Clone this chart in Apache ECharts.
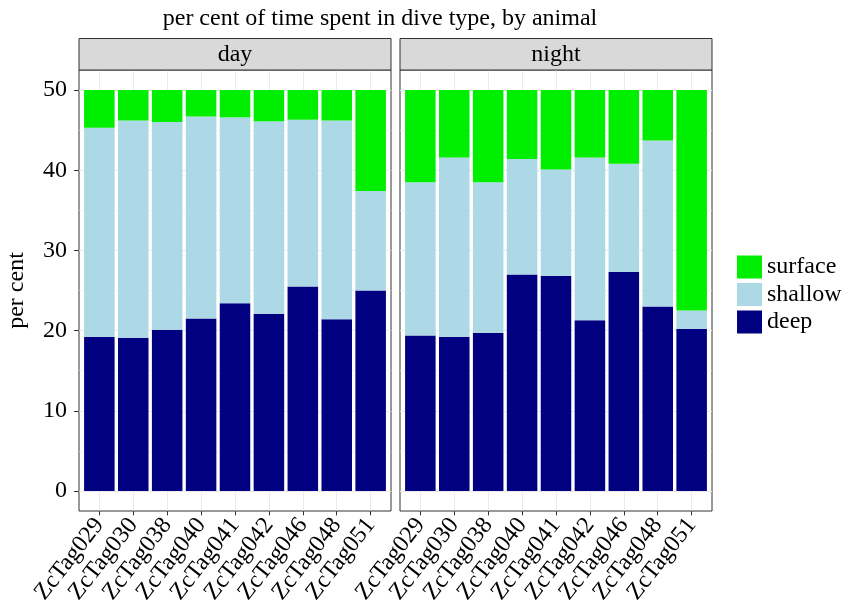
<!DOCTYPE html>
<html>
<head>
<meta charset="utf-8">
<script src="https://cdn.jsdelivr.net/npm/echarts@6/dist/echarts.min.js"></script>
<style>html,body{margin:0;padding:0;background:#fff}#chart{width:843px;height:607px}</style>
</head>
<body>
<div id="chart"></div>
<script>
const categories = ['ZcTag029','ZcTag030','ZcTag038','ZcTag040','ZcTag041','ZcTag042','ZcTag046','ZcTag048','ZcTag051'];
const panels = ['day', 'night'];
const yTicks = [0, 10, 20, 30, 40, 50];
const dayDeep      = [19.2, 19.1, 20.1, 21.5, 23.4, 22.1, 25.5, 21.4, 25.0];
const dayShallow   = [26.1, 27.1, 25.9, 25.2, 23.2, 24.0, 20.8, 24.8, 12.4];
const daySurface   = [ 4.7,  3.8,  4.0,  3.3,  3.4,  3.9,  3.7,  3.8, 12.6];
const nightDeep    = [19.4, 19.2, 19.7, 27.0, 26.8, 21.3, 27.3, 23.0, 20.2];
const nightShallow = [19.1, 22.4, 18.8, 14.4, 13.3, 20.3, 13.5, 20.7,  2.3];
const nightSurface = [11.5,  8.4, 11.5,  8.6,  9.9,  8.4,  9.2,  6.3, 27.5];
const seriesNames = ['deep', 'shallow', 'surface'];
const legendOrder = ['surface', 'shallow', 'deep'];
const titleText = 'per cent of time spent in dive type, by animal';
const yAxisTitle = 'per cent';

const colors = { deep: '#000080', shallow: '#ADD8E6', surface: '#00EE00' };
const FONT = 'Liberation Serif';
const FS = 24;
const values = { day: [dayDeep, dayShallow, daySurface], night: [nightDeep, nightShallow, nightSurface] };

// layout (pixels)
const panelLeft = [79, 400];
const panelW = 312;
const stripTop = 38.5;
const panelTop = 70, panelBottom = 511;
const yMin = 0, yMax = 50, yExp = 2.5;
const pxPerY = (panelBottom - panelTop) / (yMax - yMin + 2 * yExp);
const dataTop = panelTop + yExp * pxPerY;
const dataH = (yMax - yMin) * pxPerY;
const unit = panelW / (categories.length - 1 + 1.2);

const grid = [], xAxis = [], yAxis = [], series = [], graphic = [];
graphic.push({ type: 'text', x: 380, y: 19,
  style: { text: titleText, font: FS + 'px "' + FONT + '"', fill: '#000', textAlign: 'center', textVerticalAlign: 'middle' }, z: 6 });

panels.forEach((p, pi) => {
  const L = panelLeft[pi];
  const base = grid.length;
  // frame
  grid.push({ left: L, top: panelTop, width: panelW, height: panelBottom - panelTop, show: true,
    backgroundColor: '#fff', borderColor: '#333', borderWidth: 1, z: 0 });
  xAxis.push({ gridIndex: base, type: 'value', show: false });
  yAxis.push({ gridIndex: base, type: 'value', show: false });
  // vertical gridlines + x tick labels
  grid.push({ left: L + 0.6 * unit, top: panelTop, width: (categories.length - 1) * unit, height: panelBottom - panelTop });
  xAxis.push({ gridIndex: base + 1, type: 'category', data: categories, boundaryGap: false, z: 1,
    axisLine: { show: false },
    axisTick: { show: true, length: 4.5, lineStyle: { color: '#333', width: 1 } },
    axisLabel: { rotate: 52, fontFamily: FONT, fontSize: FS, color: '#000', margin: 10, interval: 0 },
    splitLine: { show: true, lineStyle: { color: '#ebebeb', width: 1 } } });
  yAxis.push({ gridIndex: base + 1, type: 'value', show: false });
  // horizontal gridlines + y axis
  grid.push({ left: L, top: dataTop, width: panelW, height: dataH });
  xAxis.push({ gridIndex: base + 2, type: 'value', show: false });
  yAxis.push({ gridIndex: base + 2, type: 'value', min: yTicks[0], max: yTicks[yTicks.length - 1], interval: 10, z: 1,
    name: pi === 0 ? yAxisTitle : '', nameLocation: 'middle', nameRotate: 90, nameGap: 50,
    nameTextStyle: { fontFamily: FONT, fontSize: FS, color: '#000' },
    axisLine: { show: false },
    axisTick: { show: pi === 0, length: 5, lineStyle: { color: '#333', width: 1 } },
    axisLabel: { show: pi === 0, fontFamily: FONT, fontSize: FS, color: '#000', margin: 12 },
    minorTick: { show: false, splitNumber: 2 },
    splitLine: { show: true, lineStyle: { color: '#ebebeb', width: 1.1 } },
    minorSplitLine: { show: true, lineStyle: { color: '#ebebeb', width: 0.6 } } });
  // data grid
  grid.push({ left: L + 0.1 * unit, top: dataTop, width: panelW - 0.2 * unit, height: dataH });
  xAxis.push({ gridIndex: base + 3, type: 'category', data: categories, show: false });
  yAxis.push({ gridIndex: base + 3, type: 'value', min: yMin, max: yMax, show: false });
  seriesNames.forEach((s, si) => {
    series.push({ name: s, type: 'bar', stack: p, xAxisIndex: base + 3, yAxisIndex: base + 3,
      barWidth: '90%', itemStyle: { color: colors[s] }, data: values[p][si], z: 3 });
  });
  // strip
  graphic.push({ type: 'rect', shape: { x: L, y: stripTop, width: panelW, height: panelTop - stripTop },
    style: { fill: '#d9d9d9', stroke: '#333', lineWidth: 1 }, z: 5 });
  graphic.push({ type: 'text', x: L + panelW / 2, y: (stripTop + panelTop) / 2,
    style: { text: p, font: FS + 'px "' + FONT + '"', fill: '#000', textAlign: 'center', textVerticalAlign: 'middle' }, z: 6 });
});

const chart = echarts.init(document.getElementById('chart'), null, { renderer: 'canvas' });
chart.setOption({
  animation: false,
  grid: grid, xAxis: xAxis, yAxis: yAxis, series: series, graphic: graphic,
  legend: { data: legendOrder, orient: 'vertical', left: 737, top: 255, padding: 0, itemWidth: 25, itemHeight: 23,
    itemGap: 3.5, icon: 'rect', selectedMode: false,
    textStyle: { fontFamily: FONT, fontSize: FS, color: '#000', lineHeight: 23 } }
});
</script>
</body>
</html>
